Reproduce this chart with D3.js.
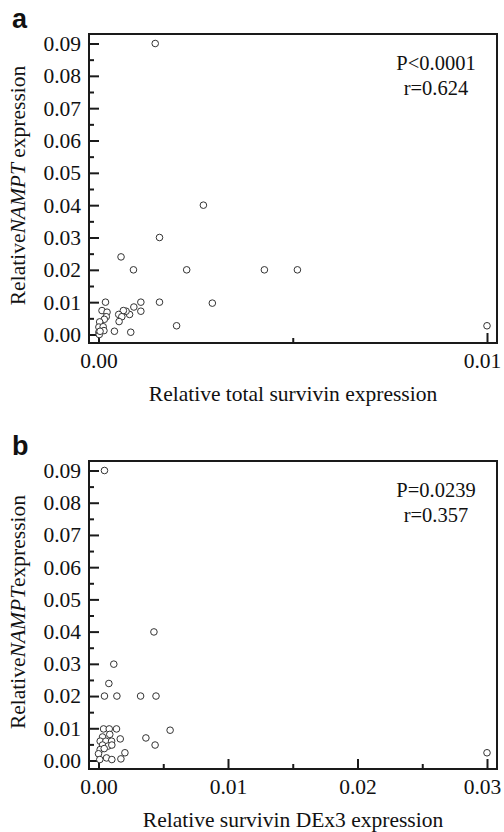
<!DOCTYPE html>
<html>
<head>
<meta charset="utf-8">
<script src="https://cdn.jsdelivr.net/npm/d3@7"></script>
<style>
  body { margin: 0; background: #fff; }
  svg { display: block; }
  text { font-family: "Liberation Serif", "Times New Roman", serif; fill: #111; }
  .panel-label { font-family: "Liberation Sans", Arial, sans-serif; font-weight: bold; }
</style>
</head>
<body>
<svg width="504" height="832"></svg>
<script>
// panel a: total survivin vs NAMPT
var totalSurvivin = [0.00146, 0.0027, 0.00157, 0.00058, 0.0009, 0.00227, 0.00427, 0.00512,
  0.00157, 0.00293, 0.00201, 0.0100, 0.00018, 0.00109, 0.00109, 0.00091, 0.0008, 0.00071,
  0.00064, 0.00052, 0.0006, 0.00053, 0.00041, 0.00083, 0.00009, 0.00022, 0.0002, 0.00015,
  0.00003, 0.00001, 0.00012, 0.00014, 0.00001, 0.00002, 0.00004];
var namptA = [0.090, 0.040, 0.030, 0.024, 0.020, 0.020, 0.020, 0.020,
  0.010, 0.0097, 0.0027, 0.0027, 0.010, 0.010, 0.0072, 0.0085, 0.0062, 0.0072,
  0.0074, 0.0062, 0.0055, 0.0040, 0.0010, 0.0007, 0.0074, 0.0069, 0.0055, 0.0047,
  0.0039, 0.0023, 0.0024, 0.0012, 0.0007, 0.0000, 0.0010];

// panel b: survivin DEx3 vs NAMPT
var dex3Survivin = [0.00046, 0.00428, 0.00118, 0.0008, 0.00046, 0.00142, 0.00325, 0.00444,
  0.00553, 0.00039, 0.00083, 0.00139, 0.00366, 0.00031, 0.00087, 0.00168, 0.00013, 0.00057,
  0.00101, 0.00031, 0.00075, 0.00103, 0.00437, 0.00013, 0.00044, 0.0000, 0.00204, 0.0001,
  0.00062, 0.00103, 0.00173, 0.030];
var namptB = [0.090, 0.0399, 0.0299, 0.0239, 0.020, 0.020, 0.020, 0.020,
  0.0094, 0.0098, 0.0098, 0.0098, 0.0070, 0.0073, 0.0081, 0.0067, 0.0060, 0.0060,
  0.0060, 0.0048, 0.0045, 0.0048, 0.0048, 0.0034, 0.0037, 0.0021, 0.0024, 0.0003,
  0.0008, 0.0003, 0.0005, 0.0024];

var yTicks = [0, 0.01, 0.02, 0.03, 0.04, 0.05, 0.06, 0.07, 0.08, 0.09];
var xTicksA = [0, 0.01];
var xTicksB = [0, 0.01, 0.02, 0.03];
var statsA = ["P<0.0001", "r=0.624"];
var statsB = ["P=0.0239", "r=0.357"];

var svg = d3.select("svg");

function panel(opt) {
    var box = opt.box;
    var x = d3.scaleLinear().domain([0, opt.xMax]).range([box.left + 9.5, box.right - 10]);
    var y = d3.scaleLinear().domain([0, 0.09]).range([box.bottom - 8.5, box.top + 9.5]);
    var g = svg.append("g");

    // minor ticks halfway between majors
    var yMinor = yTicks.slice(0, -1).map(function(d) { return d + 0.005; });
    var xMinor = opt.xTicks.slice(0, -1).map(function(d) { return d + 0.005; });

    var yAxis = g.append("g")
        .attr("transform", "translate(" + box.left + ",0)")
        .call(d3.axisLeft(y).tickValues(yTicks).tickSize(-10).tickPadding(8).tickFormat(d3.format(".2f")));
    yAxis.append("g").call(d3.axisLeft(y).tickValues(yMinor).tickSize(-5).tickFormat(""));

    var xAxis = g.append("g")
        .attr("transform", "translate(0," + box.bottom + ")")
        .call(d3.axisBottom(x).tickValues(opt.xTicks).tickSize(-10).tickPadding(10).tickFormat(d3.format(".2f")));
    xAxis.append("g").call(d3.axisBottom(x).tickValues(xMinor).tickSize(-5).tickFormat(""));
    // keep the last label inside the page
    var lastX = opt.xTicks[opt.xTicks.length - 1];
    xAxis.selectAll(".tick text").filter(function(d) { return d === lastX; })
        .attr("dx", -5);

    g.selectAll(".domain").remove();
    g.selectAll(".tick line").attr("stroke", "#1a1a1a").attr("stroke-width", 2);
    g.selectAll(".tick text").attr("font-size", 21.5)
        .attr("font-family", "'Liberation Serif', serif").attr("fill", "#111");

    g.append("rect")
        .attr("x", box.left).attr("y", box.top)
        .attr("width", box.right - box.left).attr("height", box.bottom - box.top)
        .attr("fill", "none").attr("stroke", "#1a1a1a").attr("stroke-width", 2);

    g.selectAll("circle")
      .data(opt.xs.map(function(d, i) { return [d, opt.ys[i]]; }))
      .enter().append("circle")
        .attr("cx", function(d) { return x(d[0]); })
        .attr("cy", function(d) { return y(d[1]); })
        .attr("r", 3.3)
        .attr("fill", "#fff")
        .attr("stroke", "#333")
        .attr("stroke-width", 1);

    // stats
    g.selectAll(".stat")
      .data(opt.stats)
      .enter().append("text")
        .attr("class", "stat")
        .attr("x", box.right - 61)
        .attr("y", function(d, i) { return box.top + 36 + i * 25; })
        .attr("text-anchor", "middle")
        .attr("font-size", 20.5)
        .text(function(d) { return d; });

    // axis titles
    g.append("text")
        .attr("x", (box.left + box.right) / 2)
        .attr("y", box.bottom + 58)
        .attr("text-anchor", "middle")
        .attr("font-size", 21.5)
        .text(opt.xTitle);

    var yt = g.append("text")
        .attr("transform", "translate(25," + ((box.top + box.bottom) / 2 - 3) + ") rotate(-90)")
        .attr("text-anchor", "middle")
        .attr("font-size", 21.5)
        .style("white-space", "pre");
    yt.append("tspan").text("Relative");
    yt.append("tspan").attr("font-style", "italic").text("NAMPT");
    yt.append("tspan").text(opt.yTail);

    g.append("text")
        .attr("class", "panel-label")
        .attr("x", 12)
        .attr("y", box.top - 6)
        .attr("font-size", 27)
        .text(opt.label);
}

panel({
    label: "a",
    box: { left: 89, top: 34, right: 497, bottom: 343 },
    xMax: 0.01, xTicks: xTicksA,
    xs: totalSurvivin, ys: namptA, stats: statsA,
    xTitle: "Relative total survivin expression",
    yTail: " expression"
});

panel({
    label: "b",
    box: { left: 89, top: 461, right: 497, bottom: 769 },
    xMax: 0.03, xTicks: xTicksB,
    xs: dex3Survivin, ys: namptB, stats: statsB,
    xTitle: "Relative survivin DEx3 expression",
    yTail: "expression"
});
</script>
</body>
</html>
